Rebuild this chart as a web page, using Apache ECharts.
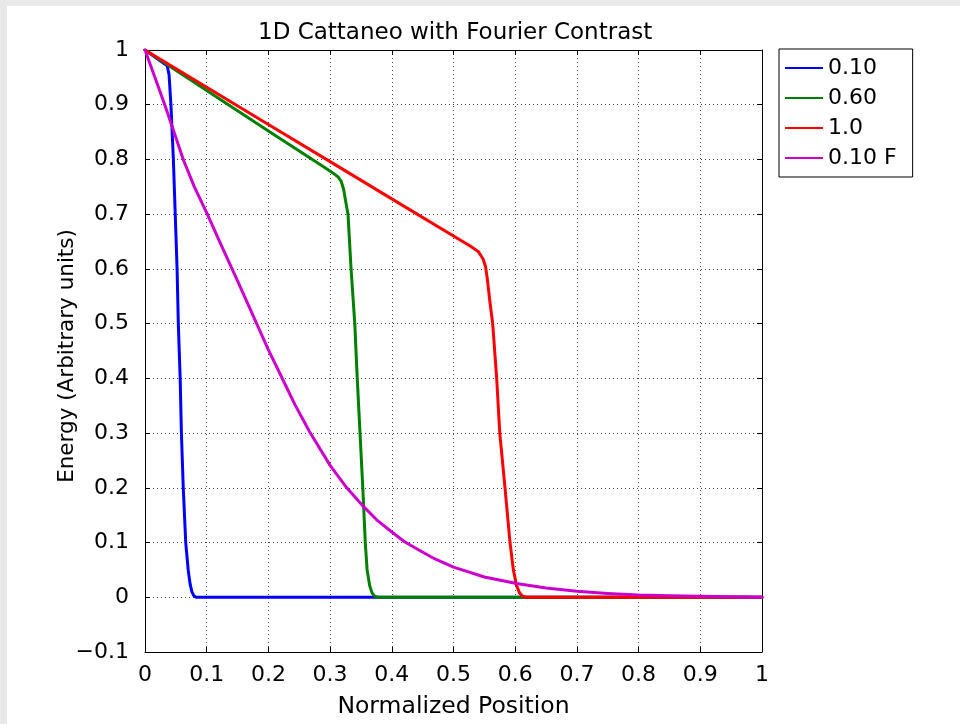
<!DOCTYPE html>
<html>
<head>
<meta charset="utf-8">
<script src="https://cdn.jsdelivr.net/npm/echarts@6/dist/echarts.min.js"></script>
<style>
  html, body { margin: 0; padding: 0; background: #fff; }
  #chart { width: 960px; height: 724px; }
</style>
</head>
<body>
<div id="chart"></div>
<script>
// curve samples
const pos010 = [0, 0.036, 0.039, 0.042, 0.046, 0.049, 0.052, 0.054, 0.057, 0.059, 0.062, 0.066, 0.070, 0.073, 0.076, 0.079, 0.083, 1];
const energy010 = [1, 0.971, 0.955, 0.9, 0.8, 0.7, 0.6, 0.5, 0.4, 0.3, 0.2, 0.1, 0.05, 0.025, 0.01, 0.003, 0, 0];

const pos060 = [0, 0.1, 0.2, 0.29, 0.305, 0.313, 0.318, 0.322, 0.325, 0.329, 0.334, 0.340, 0.344, 0.3485, 0.353, 0.357, 0.360, 0.364, 0.368, 0.372, 0.378, 1];
const energy060 = [1, 0.926, 0.852, 0.786, 0.775, 0.768, 0.76, 0.745, 0.725, 0.7, 0.6, 0.5, 0.4, 0.3, 0.2, 0.1, 0.05, 0.022, 0.008, 0.002, 0, 0];

const pos10 = [0, 0.1, 0.2, 0.3, 0.4, 0.5, 0.527, 0.54, 0.548, 0.552, 0.555, 0.559, 0.5635, 0.570, 0.575, 0.5835, 0.5916, 0.597, 0.602, 0.607, 0.612, 0.618, 1];
const energy10 = [1, 0.932, 0.864, 0.796, 0.728, 0.66, 0.642, 0.632, 0.618, 0.604, 0.58, 0.54, 0.5, 0.4, 0.3, 0.2, 0.1, 0.05, 0.022, 0.008, 0.002, 0, 0];

const pos010F = [0, 0.016, 0.032, 0.047, 0.062, 0.08, 0.101, 0.125, 0.15, 0.175, 0.2, 0.219, 0.243, 0.267, 0.3, 0.327, 0.354, 0.375, 0.397, 0.42, 0.446, 0.47, 0.5, 0.55, 0.602, 0.65, 0.7, 0.75, 0.8, 0.85, 0.9, 1.0];
const energy010F = [1, 0.95, 0.9, 0.85, 0.8, 0.75, 0.70, 0.64, 0.578, 0.515, 0.452, 0.408, 0.352, 0.302, 0.241, 0.2, 0.166, 0.142, 0.122, 0.102, 0.085, 0.07, 0.055, 0.037, 0.025, 0.017, 0.011, 0.007, 0.004, 0.003, 0.002, 0];

const seriesNames = ['0.10', '0.60', '1.0', '0.10 F'];
const seriesColors = ['#0000ff', '#008000', '#ff0000', '#cc00cc'];

const FONT = 'DejaVu Sans';

function zip(xs, ys) {
  return xs.map((x, i) => [x, ys[i]]);
}

const curves = [
  zip(pos010, energy010),
  zip(pos060, energy060),
  zip(pos10, energy10),
  zip(pos010F, energy010F),
];

const chart = echarts.init(document.getElementById('chart'));

const gridLine = { show: true, lineStyle: { color: '#444', type: [1, 3], width: 1 } };

const option = {
  backgroundColor: '#fff',
  animation: false,
  graphic: [
    { type: 'rect', shape: { x: 0, y: 0, width: 960, height: 6 }, style: { fill: '#e8e8e8' } },
    { type: 'rect', shape: { x: 0, y: 0, width: 7, height: 724 }, style: { fill: '#e8e8e8' } },
  ],
  title: {
    text: '1D Cattaneo with Fourier Contrast',
    left: 253,
    top: 17,
    textStyle: { fontFamily: FONT, fontSize: 23, fontWeight: 'normal', color: '#000' },
  },
  legend: {
    data: seriesNames,
    orient: 'vertical',
    left: 779,
    top: 49,
    padding: [8, 16, 8, 6],
    itemGap: 8,
    itemWidth: 38,
    itemHeight: 2,
    icon: 'rect',
    borderColor: '#000',
    borderWidth: 1,
    backgroundColor: '#fff',
    textStyle: { fontFamily: FONT, fontSize: 22, color: '#000', lineHeight: 22 },
  },
  grid: { left: 145, top: 50, right: 198, bottom: 70, containLabel: false },
  xAxis: [
    {
      type: 'value',
      min: 0,
      max: 1,
      interval: 0.1,
      name: 'Normalized Position',
      nameLocation: 'middle',
      nameGap: 43,
      nameMoveOverlap: false,
      nameTextStyle: { fontFamily: FONT, fontSize: 23.5, color: '#000' },
      axisLine: { show: true, onZero: false, lineStyle: { color: '#000', width: 1 } },
      axisTick: { show: true, inside: true, length: 5, lineStyle: { color: '#000' } },
      axisLabel: {
        margin: 12,
        fontFamily: FONT,
        fontSize: 22,
        color: '#000',
        formatter: (v) => (v === 0 || v === 1 ? String(v) : v.toFixed(1)),
      },
      splitLine: gridLine,
    },
    {
      type: 'value',
      position: 'top',
      min: 0,
      max: 1,
      interval: 0.1,
      axisLine: { show: true, onZero: false, lineStyle: { color: '#000', width: 1 } },
      axisTick: { show: true, inside: true, length: 5, lineStyle: { color: '#000' } },
      axisLabel: { show: false },
      splitLine: { show: false },
    },
  ],
  yAxis: [
    {
      type: 'value',
      min: -0.1,
      max: 1,
      interval: 0.1,
      name: 'Energy (Arbitrary units)',
      nameLocation: 'middle',
      nameGap: 67,
      nameMoveOverlap: false,
      nameTextStyle: { fontFamily: FONT, fontSize: 21.5, color: '#000', padding: [0, 10, 0, 0] },
      axisLine: { show: true, onZero: false, lineStyle: { color: '#000', width: 1 } },
      axisTick: { show: true, inside: true, length: 5, lineStyle: { color: '#000' } },
      axisLabel: {
        margin: 16,
        fontFamily: FONT,
        fontSize: 22,
        color: '#000',
        formatter: (v) => {
          const r = Math.round(v * 10) / 10;
          if (r === 0 || r === 1) return String(r);
          return r < 0 ? '\u2212' + Math.abs(r).toFixed(1) : r.toFixed(1);
        },
      },
      splitLine: gridLine,
    },
    {
      type: 'value',
      position: 'right',
      min: -0.1,
      max: 1,
      interval: 0.1,
      axisLine: { show: true, onZero: false, lineStyle: { color: '#000', width: 1 } },
      axisTick: { show: true, inside: true, length: 5, lineStyle: { color: '#000' } },
      axisLabel: { show: false },
      splitLine: { show: false },
    },
  ],
  series: curves.map((data, i) => ({
    name: seriesNames[i],
    type: 'line',
    data: data,
    showSymbol: false,
    smooth: false,
    color: seriesColors[i],
    lineStyle: { width: 3, color: seriesColors[i], join: 'round', cap: 'round' },
  })),
};

chart.setOption(option);
</script>
</body>
</html>
